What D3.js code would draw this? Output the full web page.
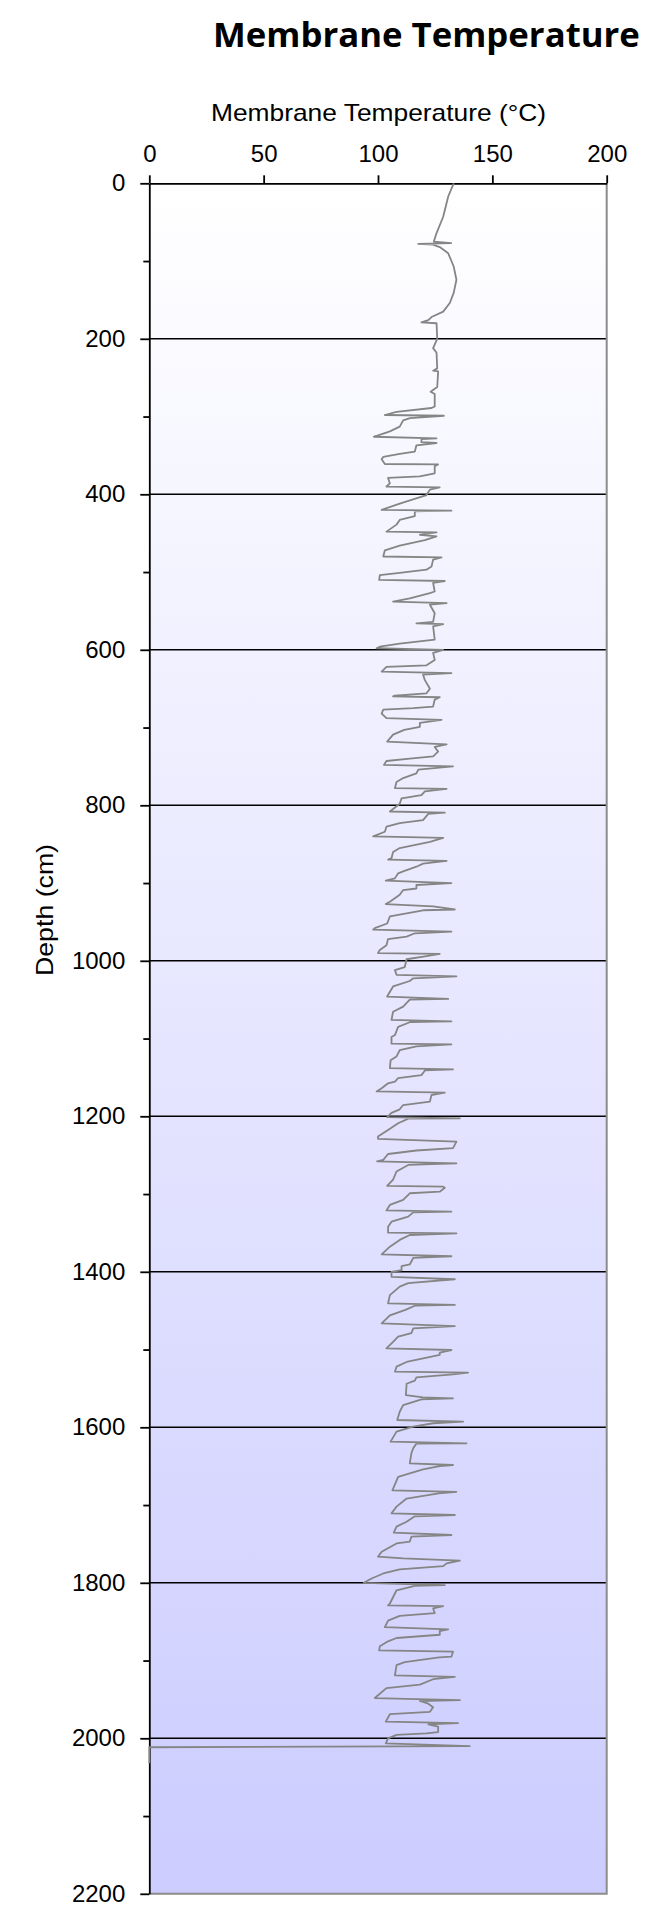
<!DOCTYPE html>
<html>
<head>
<meta charset="utf-8">
<script src="https://cdn.jsdelivr.net/npm/d3@7"></script>
<style>
  html, body { margin: 0; padding: 0; background: #ffffff; }
  svg { display: block; }
</style>
</head>
<body>
<svg id="chart" width="649" height="1915"></svg>
<script>
// ---------- data ----------
const chartTitle = "Membrane Temperature";
const xAxisTitle = "Membrane Temperature (°C)";
const yAxisTitle = "Depth (cm)";
const xTicks = [0, 50, 100, 150, 200];
const yTicks = [0, 200, 400, 600, 800, 1000, 1200, 1400, 1600, 1800, 2000, 2200];
const yMinorTicks = [100, 300, 500, 700, 900, 1100, 1300, 1500, 1700, 1900, 2100];
const gridDepths = [200, 400, 600, 800, 1000, 1200, 1400, 1600, 1800, 2000];

const depth = [
  0, 17, 43, 64, 75, 77, 78, 79, 82, 90, 107, 124, 141, 154, 165, 172, 176, 179, 180, 200,
  212, 218, 238, 241, 242, 262, 268, 271, 287, 289, 294, 298, 299, 302, 305, 313, 319, 322, 326, 328,
  329, 333, 334, 337, 345, 348, 352, 355, 361, 361.5, 364, 373, 377, 379, 386, 390, 391, 394, 401, 412,
  420, 421, 422, 428, 433, 439, 448, 449, 452, 454, 459, 466, 472, 480, 481, 484, 493, 497, 501, 504,
  510, 511.5, 514, 525, 527, 534, 538, 540, 542, 553, 564, 566, 567, 570, 587, 592, 596, 598, 600, 604,
  613, 620, 622, 628, 630, 632, 639, 650, 656, 659, 660, 661, 664, 673, 675, 677, 682, 688, 690, 694,
  699, 703, 709, 718, 721.6, 725, 731, 737, 740, 743, 748, 750, 754, 759, 765, 770, 778, 779, 782, 787,
  791, 798, 808, 809.5, 811, 819, 823, 827.5, 834, 840, 842, 847, 855, 860, 868, 870, 871.6, 875, 879, 885,
  887.5, 894, 897, 900, 902.5, 907, 909, 915, 924, 927, 930, 934, 935, 939, 943, 952, 958, 960, 962.6, 964.6,
  969, 972, 980, 986, 990, 991, 994, 998, 1008, 1012, 1018, 1020, 1022.5, 1026, 1033, 1046, 1049, 1050, 1059, 1065.5,
  1076, 1078, 1079, 1085, 1095.5, 1098, 1106.6, 1107.4, 1110, 1115, 1123, 1128, 1138, 1139.6, 1141, 1147, 1151, 1155.5, 1157.6, 1164,
  1168, 1169.6, 1172.6, 1181, 1185.5, 1191, 1195.6, 1201, 1202.6, 1203, 1209, 1217.6, 1226, 1229, 1232.6, 1241, 1244, 1248.5, 1256, 1258,
  1260.5, 1262.6, 1271, 1281.5, 1289.6, 1290.5, 1292, 1297, 1299, 1307.6, 1314, 1321, 1322.7, 1323.6, 1329, 1335.6, 1342, 1349.7, 1350.5, 1352.7,
  1359, 1367.7, 1377.6, 1380, 1382, 1390.6, 1392.8, 1398, 1400, 1406.5, 1409.6, 1414.6, 1419, 1430, 1440.5, 1442.6, 1443.6, 1449, 1456, 1466.4,
  1469.8, 1472.7, 1479, 1483.5, 1490, 1498.6, 1500.6, 1504, 1507, 1516, 1522, 1528.5, 1529.8, 1532, 1535.7, 1540, 1544, 1558.6, 1561.5, 1562.7,
  1564, 1571.4, 1580, 1590.6, 1592.7, 1594.8, 1599, 1605.6, 1618.4, 1620.6, 1621, 1627, 1633.4, 1646.3, 1648.5, 1650, 1654, 1663.7, 1681, 1683,
  1685, 1691.6, 1702, 1710.6, 1712.8, 1714.5, 1721.4, 1727.8, 1735.5, 1738.5, 1740.7, 1747, 1749.4, 1760, 1766.4, 1768.5, 1771.6, 1775, 1778.6, 1782.8,
  1788, 1794.5, 1800, 1803, 1804, 1809.6, 1826.6, 1829, 1830, 1832.8, 1839, 1842.6, 1848.6, 1857, 1859.8, 1862, 1866.8, 1871, 1875.3, 1881.7,
  1886.8, 1888.6, 1895, 1896, 1902, 1906, 1919, 1921, 1924, 1931, 1935.4, 1948.2, 1951, 1952, 1955.5, 1960, 1966, 1969, 1978.6, 1980.6,
  1982, 1985, 1992, 1993.6, 1995.7, 2000, 2006.4, 2010, 2011.5, 2032
];

const temperature = [
  133.1, 130.7, 128.5, 125.6, 124.4, 132.0, 117.6, 124.0, 127.0, 130.7, 133.1, 134.3, 133.1, 131.4, 128.5, 123.4, 122.0, 119.0, 125.6, 125.9,
  124.1, 125.6, 125.9, 124.1, 126.3, 125.9, 123.0, 124.8, 124.8, 123.4, 108.1, 103.0, 128.8, 114.0, 111.0, 109.5, 105.2, 102.3, 98.2, 125.6,
  119.0, 119.0, 125.6, 116.8, 116.1, 109.5, 102.3, 101.6, 103.0, 126.3, 124.8, 124.8, 118.3, 104.4, 105.2, 103.7, 127.0, 122.7, 121.2, 109.5,
  101.6, 132.1, 116.1, 116.1, 109.5, 108.1, 103.7, 125.6, 118.3, 125.6, 120.5, 109.5, 103.0, 102.3, 127.8, 124.1, 123.4, 121.2, 109.5, 100.8,
  100.5, 129.2, 124.1, 124.8, 122.7, 113.9, 106.6, 130.0, 122.7, 124.8, 124.1, 116.8, 128.5, 124.1, 124.8, 109.5, 100.8, 99.4, 128.5, 124.1,
  124.8, 121.2, 103.7, 101.6, 132.1, 119.7, 120.5, 122.7, 121.2, 107.4, 106.6, 127.0, 124.8, 124.1, 115.4, 102.3, 101.6, 103.7, 127.8, 118.3,
  118.3, 111.5, 106.6, 104.0, 130.0, 124.8, 126.3, 124.1, 113.9, 103.7, 102.6, 132.8, 117.6, 116.8, 111.0, 108.1, 107.4, 130.0, 120.5, 119.0,
  110.3, 109.5, 105.2, 129.2, 122.0, 119.7, 109.5, 103.7, 103.0, 97.9, 128.5, 122.7, 109.5, 106.6, 105.9, 104.4, 130.0, 119.7, 116.8, 111.0,
  108.8, 107.4, 103.4, 132.1, 116.8, 116.8, 111.0, 109.5, 105.2, 103.4, 124.1, 133.6, 119.7, 112.5, 105.2, 104.0, 98.6, 97.9, 132.1, 116.1,
  112.5, 104.4, 103.7, 100.8, 100.0, 127.0, 121.2, 112.5, 111.7, 107.4, 108.1, 134.3, 115.4, 113.9, 106.6, 104.0, 130.7, 113.9, 111.0, 106.6,
  105.9, 132.1, 113.9, 108.8, 107.4, 105.9, 105.9, 132.1, 116.8, 109.5, 108.1, 105.5, 105.2, 132.8, 120.5, 119.0, 108.8, 107.4, 104.4, 101.6,
  99.4, 129.2, 123.4, 122.7, 111.0, 109.5, 105.9, 104.0, 135.8, 113.3, 108.8, 104.4, 100.0, 100.0, 134.3, 132.8, 116.8, 104.4, 102.3, 99.6,
  134.3, 113.2, 108.1, 106.6, 104.0, 128.5, 129.2, 127.0, 113.9, 111.0, 105.2, 103.7, 132.1, 115.4, 113.2, 105.9, 104.4, 104.4, 134.3, 113.9,
  109.5, 105.2, 101.6, 132.1, 115.4, 113.9, 110.3, 110.3, 105.9, 105.9, 133.6, 113.2, 109.5, 105.2, 104.4, 133.6, 116.1, 112.0, 105.2, 101.6,
  133.6, 115.4, 114.6, 108.8, 106.6, 103.7, 132.1, 127.0, 127.0, 112.5, 108.1, 107.4, 139.4, 132.8, 116.8, 116.1, 112.5, 112.2, 119.7, 132.8,
  119.0, 111.0, 109.5, 108.4, 137.2, 124.1, 115.4, 108.1, 105.5, 138.7, 116.8, 115.4, 114.6, 113.9, 132.8, 127.0, 119.7, 108.8, 106.3, 134.3,
  126.5, 112.5, 108.1, 105.9, 133.6, 116.1, 112.5, 108.1, 106.9, 132.1, 114.6, 113.9, 108.1, 101.6, 100.0, 111.0, 135.8, 130.0, 128.5, 109.5,
  102.3, 97.2, 93.8, 129.2, 116.1, 108.1, 105.2, 104.4, 128.5, 124.1, 124.8, 109.5, 104.4, 103.0, 130.7, 127.0, 127.0, 108.1, 104.4, 100.8,
  100.5, 132.8, 132.1, 126.7, 111.7, 108.1, 107.4, 133.6, 124.1, 118.3, 103.7, 98.6, 135.8, 118.3, 122.0, 124.1, 122.7, 105.2, 103.4, 135.0,
  122.0, 126.3, 126.3, 121.2, 108.1, 104.4, 103.4, 140.1, 0, 0
];

// ---------- layout ----------
const svg = d3.select("#chart");
const plot = { left: 149.3, right: 606.7, top: 183.3, bottom: 1893.8 };

const x = d3.scaleLinear().domain([0, 200]).range([plot.left, plot.right]);
const y = d3.scaleLinear().domain([0, 2200]).range([plot.top, plot.bottom]);

// background gradient
const defs = svg.append("defs");
const grad = defs.append("linearGradient").attr("id", "bg")
  .attr("x1", 0).attr("y1", 0).attr("x2", 0).attr("y2", 1);
grad.append("stop").attr("offset", "0%").attr("stop-color", "#ffffff");
grad.append("stop").attr("offset", "100%").attr("stop-color", "#ccccff");

svg.append("rect")
  .attr("x", plot.left).attr("y", plot.top)
  .attr("width", plot.right - plot.left).attr("height", plot.bottom - plot.top)
  .attr("fill", "url(#bg)");

// gridlines
svg.append("g").selectAll("line").data(gridDepths).join("line")
  .attr("x1", plot.left).attr("x2", plot.right)
  .attr("y1", d => y(d)).attr("y2", d => y(d))
  .attr("stroke", "#000").attr("stroke-width", 1.6);

// plot-area border (right & bottom)
svg.append("path")
  .attr("d", `M${plot.right},${plot.top}V${plot.bottom}H${plot.left}`)
  .attr("fill", "none").attr("stroke", "#8c8c8c").attr("stroke-width", 2);

// x axis (top)
const xAxis = d3.axisTop(x).tickValues(xTicks).tickSize(8).tickSizeOuter(0).tickPadding(13)
  .tickFormat(d3.format("d"));
const gx = svg.append("g").attr("transform", `translate(0,${plot.top})`).call(xAxis);
gx.select(".domain").attr("stroke", "#000").attr("stroke-width", 1.8);
gx.selectAll(".tick line").attr("stroke", "#000").attr("stroke-width", 1.8);
gx.selectAll(".tick text")
  .attr("font-family", "'Liberation Sans', Arial, sans-serif")
  .attr("font-size", 24).attr("fill", "#000");

// y axis (left)
const yAxis = d3.axisLeft(y).tickValues(yTicks).tickSize(9).tickSizeOuter(0).tickPadding(15)
  .tickFormat(d3.format("d"));
const gy = svg.append("g").attr("transform", `translate(${plot.left},0)`).call(yAxis);
gy.select(".domain").attr("stroke", "#000").attr("stroke-width", 1.8);
gy.selectAll(".tick line").attr("stroke", "#000").attr("stroke-width", 1.8);
gy.selectAll(".tick text")
  .attr("font-family", "'Liberation Sans', Arial, sans-serif")
  .attr("font-size", 24).attr("fill", "#000");

// minor y ticks
const yMinor = d3.axisLeft(y).tickValues(yMinorTicks).tickSize(6).tickSizeOuter(0).tickFormat("");
const gym = svg.append("g").attr("transform", `translate(${plot.left},0)`).call(yMinor);
gym.select(".domain").remove();
gym.selectAll(".tick line").attr("stroke", "#000").attr("stroke-width", 1.8);

// data line
const line = d3.line().x((d, i) => x(temperature[i])).y((d, i) => y(depth[i]));
svg.append("path")
  .datum(depth)
  .attr("d", line)
  .attr("fill", "none")
  .attr("stroke", "#858585")
  .attr("stroke-width", 1.8)
  .attr("stroke-linejoin", "round");

// titles
const t = svg.append("text")
  .attr("x", 213).attr("y", 47)
  .attr("font-family", "'Open Sans', 'Noto Sans', sans-serif")
  .attr("font-weight", 700)
  .attr("font-size", 34)
  .attr("fill", "#000")
  .text(chartTitle);
const tw = t.node().getComputedTextLength();
t.attr("font-size", 34 * 427 / tw);

svg.append("text")
  .attr("x", (plot.left + plot.right) / 2 + 0.5).attr("y", 121)
  .attr("text-anchor", "middle")
  .attr("font-family", "'Liberation Sans', Arial, sans-serif")
  .attr("font-size", 24)
  .attr("textLength", 335).attr("lengthAdjust", "spacingAndGlyphs")
  .attr("fill", "#000")
  .text(xAxisTitle);

svg.append("text")
  .attr("transform", "translate(53,910) rotate(-90)")
  .attr("text-anchor", "middle")
  .attr("font-family", "'Liberation Sans', Arial, sans-serif")
  .attr("font-size", 24)
  .attr("textLength", 132).attr("lengthAdjust", "spacingAndGlyphs")
  .attr("fill", "#000")
  .text(yAxisTitle);
</script>
</body>
</html>
